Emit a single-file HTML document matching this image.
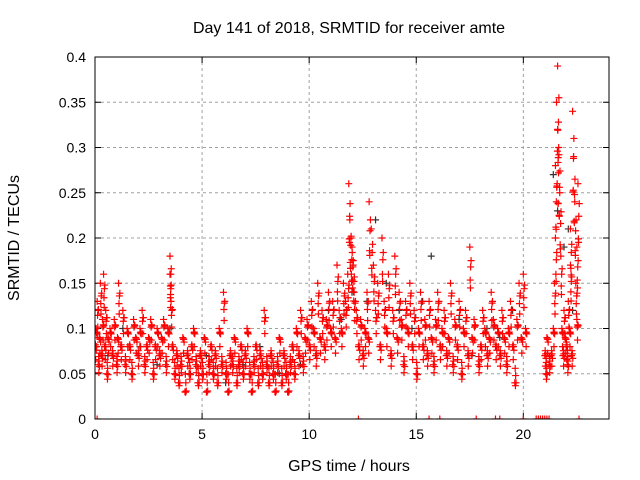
<!DOCTYPE html>
<html><head><meta charset="utf-8"><style>
body{margin:0;background:#fff}
svg{display:block;font-family:"Liberation Sans",sans-serif}
</style></head><body>
<svg id="chart" width="640" height="480">
<defs><clipPath id="pc"><rect x="95" y="57" width="514" height="362"/></clipPath></defs>
<text x="349" y="33" font-size="16" text-anchor="middle">Day 141 of 2018, SRMTID for receiver amte</text>
<text x="349" y="471" font-size="16" text-anchor="middle">GPS time / hours</text>
<text x="19" y="238" font-size="16" text-anchor="middle" transform="rotate(-90 19 238)">SRMTID / TECUs</text>
<g id="grid"></g><g id="ticks"></g><g id="marks" clip-path="url(#pc)"></g>
<rect x="95" y="57" width="514" height="362" fill="none" stroke="#000" stroke-width="1"/>
</svg>
<script>
const xTicks=[0,5,10,15,20];
const yTicks=[0,0.05,0.1,0.15,0.2,0.25,0.3,0.35,0.4];
const yTickLabels=["0","0.05","0.1","0.15","0.2","0.25","0.3","0.35","0.4"];
const blackT=[0.2,0.6,1.3,2.1,2.9,3.5,4.4,5.2,6.1,6.9,7.7,8.6,9.0,9.6,10.2,10.9,11.5,12.0,12.7,13.1,13.6,14.2,14.8,15.3,15.7,16.5,17.0,17.6,18.3,18.9,19.5,21.4,21.6,21.9,22.1,22.3];
const blackV=[0.09,0.07,0.1,0.08,0.06,0.1,0.05,0.07,0.04,0.06,0.08,0.05,0.03,0.06,0.1,0.12,0.11,0.14,0.13,0.22,0.15,0.12,0.1,0.13,0.18,0.09,0.11,0.07,0.1,0.09,0.12,0.27,0.23,0.19,0.21,0.12];
const redT=[0,0.05,0.1,0.15,0.2,0.25,0.3,0.35,0.4,0.45,0.5,0.55,0.6,0.7,0.8,0.9,1.0,1.05,1.1,1.2,1.3,1.4,1.5,1.6,1.7,1.8,1.9,2.0,2.1,2.2,2.3,2.4,2.5,2.6,2.7,2.8,2.9,3.0,3.1,3.2,3.3,3.4,3.5,3.5,3.55,3.6,3.7,3.8,3.9,4.0,4.1,4.2,4.3,4.4,4.5,4.6,4.7,4.8,4.9,5.0,5.1,5.2,5.3,5.4,5.5,5.6,5.7,5.8,5.9,6.0,6.1,6.2,6.3,6.4,6.5,6.6,6.7,6.8,6.9,7.0,7.1,7.2,7.3,7.4,7.5,7.6,7.7,7.8,7.9,8.0,8.1,8.2,8.3,8.4,8.5,8.6,8.7,8.8,8.9,9.0,9.1,9.2,9.3,9.4,9.5,9.6,9.7,9.8,9.9,10.0,10.1,10.2,10.3,10.4,10.5,10.6,10.7,10.8,10.9,11.0,11.1,11.2,11.3,11.4,11.5,11.6,11.7,11.8,11.85,11.9,11.95,12.0,12.05,12.1,12.2,12.3,12.4,12.5,12.6,12.7,12.75,12.8,12.9,13.0,13.1,13.2,13.3,13.4,13.5,13.6,13.7,13.8,13.9,14.0,14.1,14.2,14.3,14.4,14.5,14.6,14.7,14.8,14.9,15.0,15.1,15.2,15.3,15.4,15.5,15.6,15.7,15.8,15.9,16.0,16.1,16.2,16.3,16.4,16.5,16.6,16.7,16.8,16.9,17.0,17.1,17.2,17.3,17.4,17.5,17.6,17.7,17.9,18.0,18.1,18.2,18.3,18.4,18.5,18.6,18.7,18.8,18.9,19.0,19.1,19.2,19.3,19.4,19.5,19.6,19.7,19.8,19.9,20.0,20.1,21.0,21.05,21.1,21.2,21.3,21.4,21.45,21.5,21.5,21.55,21.6,21.6,21.65,21.7,21.75,21.8,21.85,21.9,21.95,22.0,22.05,22.1,22.15,22.2,22.2,22.25,22.3,22.35,22.4,22.45,22.5,22.5,22.55];
const redV=[0.08,0.1,0.13,0.06,0.09,0.15,0.07,0.11,0.16,0.08,0.12,0.05,0.09,0.1,0.07,0.11,0.06,0.09,0.15,0.08,0.12,0.06,0.1,0.08,0.05,0.11,0.09,0.07,0.1,0.12,0.06,0.08,0.09,0.11,0.05,0.08,0.1,0.07,0.09,0.11,0.06,0.1,0.16,0.18,0.13,0.08,0.05,0.07,0.04,0.06,0.09,0.03,0.07,0.05,0.08,0.1,0.06,0.04,0.07,0.05,0.09,0.03,0.06,0.08,0.05,0.07,0.04,0.1,0.06,0.14,0.05,0.03,0.07,0.06,0.09,0.04,0.06,0.08,0.05,0.07,0.1,0.05,0.03,0.06,0.08,0.04,0.07,0.05,0.12,0.06,0.04,0.07,0.05,0.03,0.06,0.09,0.04,0.07,0.05,0.03,0.06,0.08,0.05,0.1,0.07,0.12,0.06,0.09,0.11,0.08,0.13,0.1,0.07,0.15,0.09,0.12,0.08,0.11,0.14,0.1,0.13,0.09,0.17,0.12,0.1,0.15,0.13,0.16,0.26,0.22,0.2,0.19,0.17,0.14,0.12,0.08,0.11,0.07,0.1,0.14,0.09,0.24,0.21,0.17,0.12,0.15,0.08,0.2,0.13,0.1,0.16,0.07,0.12,0.18,0.09,0.14,0.11,0.06,0.13,0.1,0.15,0.08,0.12,0.05,0.1,0.14,0.08,0.11,0.07,0.13,0.09,0.06,0.11,0.14,0.08,0.1,0.12,0.07,0.09,0.15,0.06,0.11,0.08,0.13,0.05,0.1,0.12,0.07,0.19,0.09,0.11,0.06,0.08,0.12,0.1,0.07,0.09,0.14,0.11,0.08,0.1,0.07,0.12,0.09,0.06,0.1,0.13,0.08,0.04,0.11,0.15,0.09,0.16,0.1,0.07,0.05,0.09,0.06,0.07,0.1,0.15,0.2,0.28,0.35,0.39,0.32,0.3,0.25,0.18,0.1,0.07,0.12,0.09,0.08,0.06,0.13,0.1,0.17,0.21,0.07,0.34,0.29,0.24,0.15,0.11,0.19,0.26,0.12,0.09,0.23,0.16];
const zeroT=[0.1,12.3,15.6,16.1,17.8,18.7,18.9,20.0,20.6,20.7,20.8,20.9,21.0,21.1,21.2,22.6];
const X0=95,X1=609,Y0=419,Y1=57;
const xs=v=>X0+(v/24)*(X1-X0);
const ys=v=>Y0-(v/0.4)*(Y0-Y1);
const NS="http://www.w3.org/2000/svg";
const grid=document.getElementById('grid'),ticks=document.getElementById('ticks'),marks=document.getElementById('marks');
function mk(tag,attrs,parent){const e=document.createElementNS(NS,tag);for(const k in attrs)e.setAttribute(k,attrs[k]);parent.appendChild(e);return e;}
xTicks.forEach(t=>{const x=xs(t);
 if(t>0){const g=mk('line',{x1:x,y1:Y0,x2:x,y2:Y1,stroke:'#a0a0a0','stroke-dasharray':'3,3'},grid);
 
 }
 mk('line',{x1:x,y1:Y0,x2:x,y2:Y0-6,stroke:'#000'},ticks);
 mk('line',{x1:x,y1:Y1,x2:x,y2:Y1+6,stroke:'#000'},ticks);
 const l=mk('text',{x:x,y:Y0+20,'font-size':14,'text-anchor':'middle'},ticks);l.textContent=t;
 
 });
yTicks.forEach((t,i)=>{const y=ys(t);
 if(t>0&&t<0.4){const g=mk('line',{x1:X0,y1:y,x2:X1,y2:y,stroke:'#a0a0a0','stroke-dasharray':'3,3'},grid);
 
 }
 mk('line',{x1:X0,y1:y,x2:X0+6,y2:y,stroke:'#000'},ticks);
 mk('line',{x1:X1,y1:y,x2:X1-6,y2:y,stroke:'#000'},ticks);
 const l=mk('text',{x:X0-9,y:y+5,'font-size':14,'text-anchor':'end'},ticks);l.textContent=yTickLabels[i];
 
 });
function plus(t,v,c,name){const x=xs(t),y=ys(v);
 const p=mk('path',{d:`M${x-3.5},${y}h7M${x},${y-3.5}v7`,stroke:c,'stroke-width':1.2,fill:'none'},marks);
 
 }
blackT.forEach((t,i)=>plus(t,blackV[i],'#333','black-point'));
redT.forEach((t,i)=>{const v=redV[i];
 plus(t,v,'#f00','red-point');
 plus(t+0.04,v*0.8+0.016,'#f00','red-point');
 plus(t+0.02,v*0.65+0.03,'#f00','red-point');
 plus(t+0.06,v*0.9+0.004,'#f00','red-point');
 plus(t+0.03,v*0.72+0.008,'#f00','red-point');});
zeroT.forEach(t=>plus(t,0,'#f00','zero-point'));
</script>
</body></html>
